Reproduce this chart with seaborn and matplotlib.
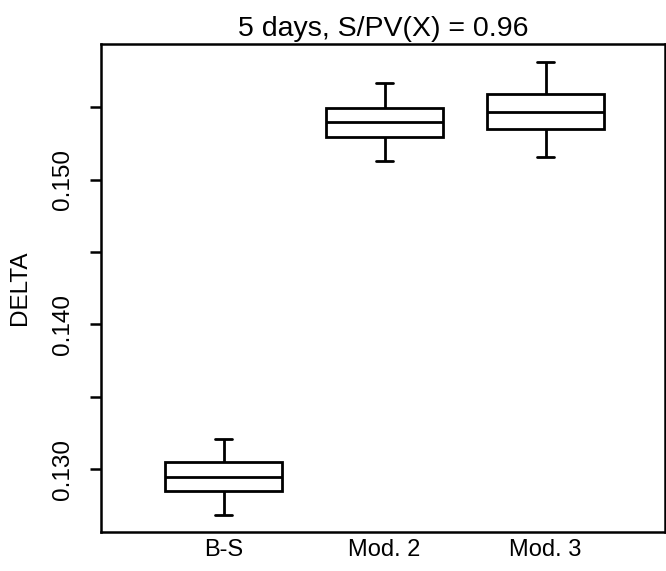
import numpy as np
import pandas as pd
import matplotlib
matplotlib.use("Agg")
import matplotlib.pyplot as plt
import seaborn as sns
from matplotlib.ticker import FixedLocator

# ---- data ----
methods = ["B-S", "Mod. 2", "Mod. 3"]
whisker_low = [0.12686, 0.15131, 0.15155]
q1 = [0.12852, 0.15293, 0.15350]
median = [0.12945, 0.15396, 0.15468]
q3 = [0.13048, 0.15493, 0.15592]
whisker_high = [0.13209, 0.15666, 0.15815]

ytick_major = [0.130, 0.140, 0.150]
ytick_minor = [0.135, 0.145, 0.155]
ytick_labels = ["0.130", "0.140", "0.150"]
title = "5 days, S/PV(X) = 0.96"
ylabel = "DELTA"

rows = []
for m, a, b, c, d, e in zip(methods, whisker_low, q1, median, q3, whisker_high):
    for v in (a, b, c, d, e):
        rows.append({"method": m, "DELTA": v})
df = pd.DataFrame(rows)

sns.set_theme(style="white")
plt.rcParams["font.family"] = ["Liberation Sans", "DejaVu Sans"]

W, H = 666, 571
fig = plt.figure(figsize=(W / 100, H / 100), dpi=100)
left, right, top, bottom = 100.7, 665.0, 44.3, 531.7
ax = fig.add_axes([left / W, (H - bottom) / H, (right - left) / W, (bottom - top) / H])

box_width = 0.73
sns.boxplot(data=df, x="method", y="DELTA", order=methods, ax=ax,
            whis=(0, 100), width=box_width, color="white",
            linecolor="black", linewidth=2.0, showfliers=False)

# shorten caps (R-style staples)
cap_half = 0.05
for ln in ax.lines:
    xd = np.asarray(ln.get_xdata(), dtype=float)
    yd = np.asarray(ln.get_ydata(), dtype=float)
    if len(xd) == 2 and np.isclose(yd[0], yd[1]):
        length = abs(xd[1] - xd[0])
        if length < 0.8 * box_width:
            cx = xd.mean()
            ln.set_xdata([cx - cap_half, cx + cap_half])

ax.set_xlim(-0.763, 2.742)
ax.set_ylim(0.12569, 0.15935)

ax.yaxis.set_major_locator(FixedLocator(ytick_major))
ax.yaxis.set_minor_locator(FixedLocator(ytick_minor))
ax.set_yticklabels(ytick_labels, rotation=90, va="center", fontsize=17.5)
ax.tick_params(axis="y", which="both", left=True, length=8, width=1.8,
               direction="out", color="black", pad=11)
ax.tick_params(axis="x", bottom=False, length=0, pad=5, labelsize=17,
               labelcolor="black")
ax.tick_params(axis="y", labelcolor="black")

for s in ax.spines.values():
    s.set_visible(True)
    s.set_color("black")
    s.set_linewidth(1.8)

ax.set_xlabel("")
ax.set_ylabel(ylabel, fontsize=17.5, labelpad=15, color="black")
ax.set_title(title, fontsize=20.5, pad=6, color="black")

fig.savefig("out.png", dpi=100, facecolor="white")
